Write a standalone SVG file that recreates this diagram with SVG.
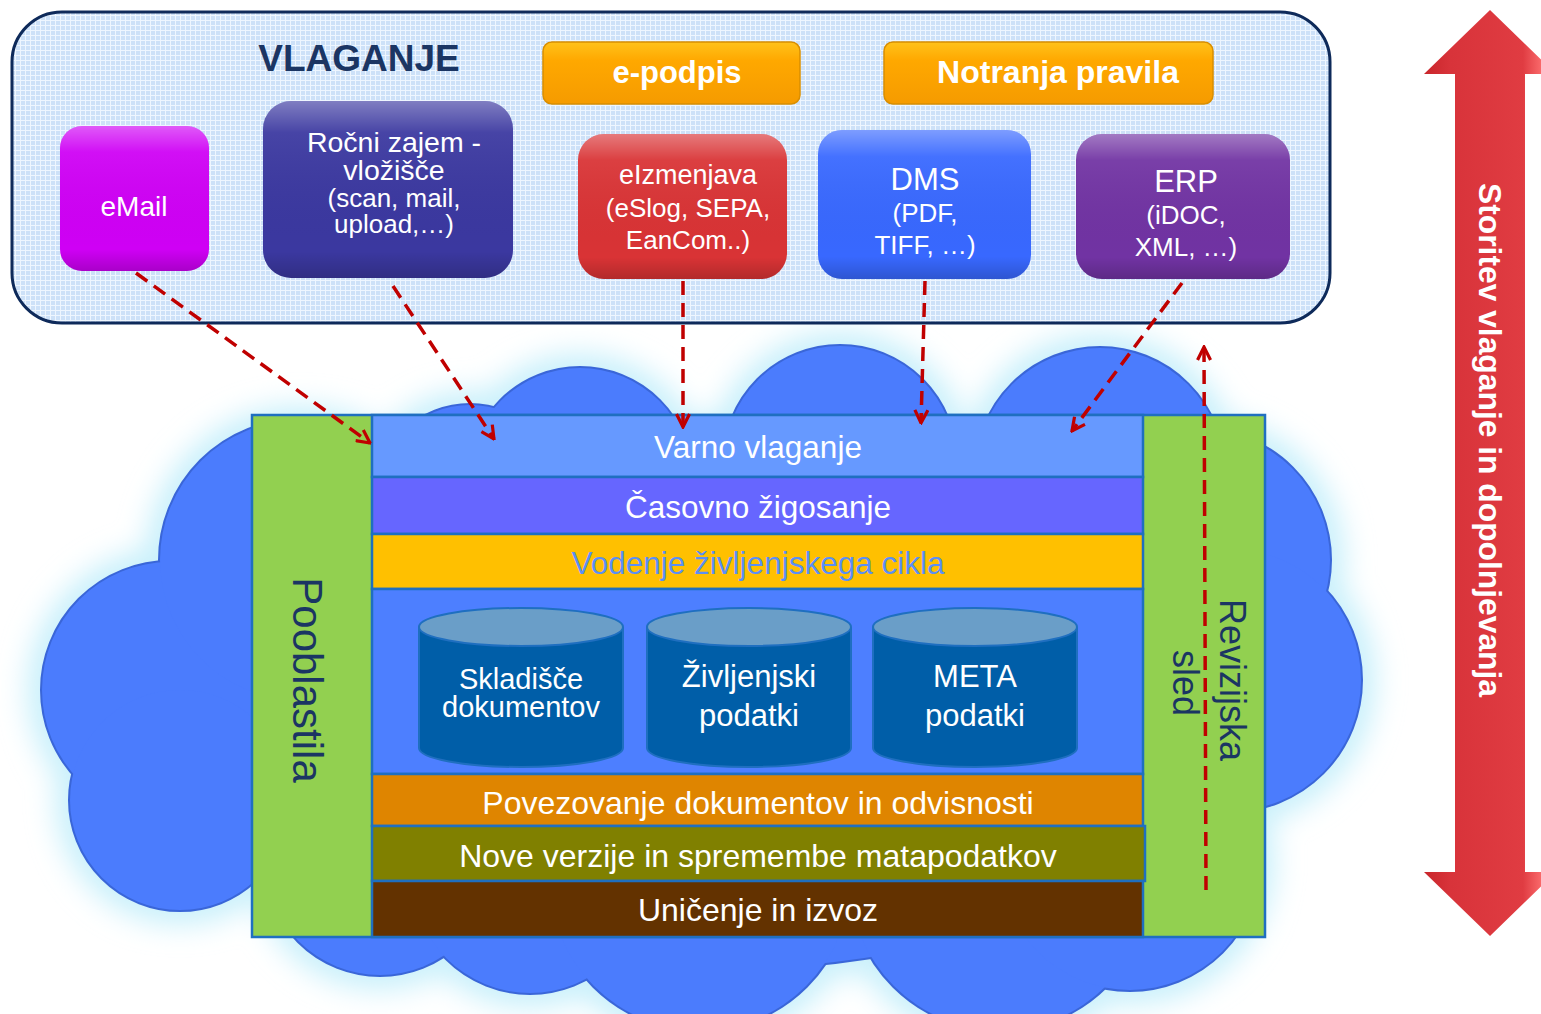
<svg xmlns="http://www.w3.org/2000/svg" width="1541" height="1014" viewBox="0 0 1541 1014">
<defs>
  <style>
    .t { font-family: "Liberation Sans", Arial, sans-serif; text-anchor: middle; fill: #ffffff; }
    .b { font-weight: bold; }
    .navy { fill: #1b3563; }
    .layer { stroke: #1f6fc0; stroke-width: 2.5; }
    .conn { fill: none; stroke: #c00000; stroke-width: 3.5; stroke-dasharray: 14 8; marker-end: url(#ah); }
    .cyl { fill: #005ea8; stroke: #1f6fc0; stroke-width: 2; }
    .cyltop { fill: #6a9ec8; stroke: #1f6fc0; stroke-width: 2; }
    .cloud { fill: #4b7cfd; }
  </style>
  <pattern id="grid" width="5" height="5" patternUnits="userSpaceOnUse">
    <rect width="5" height="5" fill="#cde1f8"/>
    <path d="M0,0.5H5M0.5,0V5" stroke="#eef6ff" stroke-width="1"/>
  </pattern>
  <linearGradient id="gloss" x1="0" y1="0" x2="0" y2="1">
    <stop offset="0" stop-color="#ffffff" stop-opacity="0.35"/>
    <stop offset="0.18" stop-color="#ffffff" stop-opacity="0.06"/>
    <stop offset="0.85" stop-color="#000000" stop-opacity="0"/>
    <stop offset="1" stop-color="#000000" stop-opacity="0.18"/>
  </linearGradient>
  <linearGradient id="orange" x1="0" y1="0" x2="0" y2="1">
    <stop offset="0" stop-color="#ffc21a"/>
    <stop offset="0.3" stop-color="#ffa800"/>
    <stop offset="1" stop-color="#f59b00"/>
  </linearGradient>
  <linearGradient id="redarrow" x1="0" y1="0" x2="1" y2="0">
    <stop offset="0" stop-color="#c9262b"/>
    <stop offset="0.2" stop-color="#d8333a"/>
    <stop offset="0.75" stop-color="#e03c42"/>
    <stop offset="0.92" stop-color="#ff7373"/>
    <stop offset="1" stop-color="#d8363b"/>
  </linearGradient>
  <filter id="glow" x="-10%" y="-10%" width="120%" height="120%">
    <feGaussianBlur stdDeviation="14"/>
  </filter>
  <marker id="ah" viewBox="0 0 16 16" refX="14.5" refY="8" markerWidth="16" markerHeight="16" markerUnits="userSpaceOnUse" orient="auto">
    <path d="M1.5,1.5 L14.5,8 L1.5,14.5" fill="none" stroke="#c00000" stroke-width="3.2"/>
  </marker>
  <g id="cloudshape">
    <ellipse cx="700" cy="700" rx="560" ry="270"/>
    <circle cx="170" cy="690" r="128"/>
    <circle cx="300" cy="560" r="140"/>
    <circle cx="470" cy="500" r="95"/>
    <circle cx="180" cy="800" r="110"/>
    <circle cx="380" cy="860" r="115"/>
    <circle cx="530" cy="875" r="118"/>
    <circle cx="700" cy="880" r="150"/>
    <circle cx="1000" cy="880" r="150"/>
    <circle cx="580" cy="480" r="112"/>
    <circle cx="840" cy="462" r="116"/>
    <circle cx="1100" cy="472" r="124"/>
    <circle cx="1200" cy="560" r="130"/>
    <circle cx="1230" cy="680" r="131"/>
    <circle cx="1130" cy="860" r="130"/>
  </g>
</defs>

<rect width="1541" height="1014" fill="#ffffff"/>

<!-- cloud -->
<g id="cloud">
  <use href="#cloudshape" fill="#c9f0fb" stroke="#c9f0fb" stroke-width="30" filter="url(#glow)"/>
  <use href="#cloudshape" fill="#3a66d8" stroke="#3a66d8" stroke-width="4"/>
  <use href="#cloudshape" class="cloud"/>
</g>

<!-- top panel -->
<g id="vlaganje-panel">
  <rect x="12" y="12" width="1318" height="311" rx="50" fill="url(#grid)" stroke="#0e2a5a" stroke-width="3"/>
  <text class="t b navy" x="359" y="71" font-size="37">VLAGANJE</text>
</g>

<g id="epodpis">
  <rect x="543" y="42" width="257" height="62" rx="9" fill="url(#orange)" stroke="#d98e00" stroke-width="1.5"/>
  <text class="t b" x="677" y="83" font-size="31">e-podpis</text>
</g>
<g id="notranja">
  <rect x="884" y="42" width="329" height="62" rx="9" fill="url(#orange)" stroke="#d98e00" stroke-width="1.5"/>
  <text class="t b" x="1058" y="83" font-size="32">Notranja pravila</text>
</g>

<g id="email">
  <rect x="60" y="126" width="149" height="145" rx="22" fill="#cf00f5"/>
  <rect x="60" y="126" width="149" height="145" rx="22" fill="url(#gloss)"/>
  <text class="t" x="134" y="216" font-size="28">eMail</text>
</g>
<g id="rocni">
  <rect x="263" y="101" width="250" height="177" rx="28" fill="#3b38a0"/>
  <rect x="263" y="101" width="250" height="177" rx="28" fill="url(#gloss)"/>
  <text class="t" x="394" y="152" font-size="28.5">Ročni zajem -</text>
  <text class="t" x="394" y="180" font-size="28.5">vložišče</text>
  <text class="t" x="394" y="207" font-size="26">(scan, mail,</text>
  <text class="t" x="394" y="233" font-size="26">upload,…)</text>
</g>
<g id="eizmenjava">
  <rect x="578" y="134" width="209" height="145" rx="26" fill="#d93335"/>
  <rect x="578" y="134" width="209" height="145" rx="26" fill="url(#gloss)"/>
  <text class="t" x="688" y="184" font-size="27">eIzmenjava</text>
  <text class="t" x="688" y="217" font-size="26">(eSlog, SEPA,</text>
  <text class="t" x="688" y="249" font-size="26">EanCom..)</text>
</g>
<g id="dms">
  <rect x="818" y="130" width="213" height="149" rx="24" fill="#3868ff"/>
  <rect x="818" y="130" width="213" height="149" rx="24" fill="url(#gloss)"/>
  <text class="t" x="925" y="190" font-size="31">DMS</text>
  <text class="t" x="925" y="222" font-size="26">(PDF,</text>
  <text class="t" x="925" y="254" font-size="26">TIFF, …)</text>
</g>
<g id="erp">
  <rect x="1076" y="134" width="214" height="145" rx="26" fill="#7133a3"/>
  <rect x="1076" y="134" width="214" height="145" rx="26" fill="url(#gloss)"/>
  <text class="t" x="1186" y="192" font-size="31">ERP</text>
  <text class="t" x="1186" y="224" font-size="26">(iDOC,</text>
  <text class="t" x="1186" y="256" font-size="26">XML, …)</text>
</g>

<!-- green frame -->
<g id="frame">
  <rect x="252" y="415" width="1013" height="522" fill="#92d050" stroke="#1f6fc0" stroke-width="2.5"/>
</g>
<g id="pooblastila">
  <text class="t navy" font-size="42" transform="translate(293,680) rotate(90)">Pooblastila</text>
</g>
<g id="revizijska">
  <text class="t navy" font-size="36" transform="translate(1220,680) rotate(90)">Revizijska</text>
  <text class="t navy" font-size="36" transform="translate(1173,683) rotate(90)">sled</text>
</g>

<g id="varno">
  <rect class="layer" x="372" y="415" width="771" height="62" fill="#6699ff"/>
  <text class="t" x="758" y="458" font-size="31.5">Varno vlaganje</text>
</g>
<g id="casovno">
  <rect class="layer" x="372" y="477" width="771" height="57" fill="#6666ff"/>
  <text class="t" x="758" y="518" font-size="31.5">Časovno žigosanje</text>
</g>
<g id="vodenje">
  <rect class="layer" x="372" y="534" width="771" height="55" fill="#ffc000"/>
  <text class="t" x="758" y="574" font-size="31.5" style="fill:#5b8ff6">Vodenje življenjskega cikla</text>
</g>
<g id="storage">
  <rect class="layer" x="372" y="589" width="771" height="185" fill="#4d7fff"/>
</g>
<g id="skladisce">
  <path class="cyl" d="M419,627 V748 A102,19 0 0 0 623,748 V627"/>
  <ellipse class="cyltop" cx="521" cy="627" rx="102" ry="19"/>
  <text class="t" x="521" y="689" font-size="29">Skladišče</text>
  <text class="t" x="521" y="717" font-size="29">dokumentov</text>
</g>
<g id="zivljenjski">
  <path class="cyl" d="M647,627 V748 A102,19 0 0 0 851,748 V627"/>
  <ellipse class="cyltop" cx="749" cy="627" rx="102" ry="19"/>
  <text class="t" x="749" y="687" font-size="31">Življenjski</text>
  <text class="t" x="749" y="726" font-size="31">podatki</text>
</g>
<g id="meta">
  <path class="cyl" d="M873,627 V748 A102,19 0 0 0 1077,748 V627"/>
  <ellipse class="cyltop" cx="975" cy="627" rx="102" ry="19"/>
  <text class="t" x="975" y="687" font-size="31">META</text>
  <text class="t" x="975" y="726" font-size="31">podatki</text>
</g>
<g id="povezovanje">
  <rect class="layer" x="372" y="774" width="771" height="52" fill="#df8500"/>
  <text class="t" x="758" y="814" font-size="32">Povezovanje dokumentov in odvisnosti</text>
</g>
<g id="nove">
  <rect class="layer" x="372" y="826" width="773" height="55" fill="#808000"/>
  <text class="t" x="758" y="867" font-size="32">Nove verzije in spremembe matapodatkov</text>
</g>
<g id="unicenje">
  <rect class="layer" x="372" y="881" width="771" height="56" fill="#633200"/>
  <text class="t" x="758" y="921" font-size="32">Uničenje in izvoz</text>
</g>

<!-- connectors -->
<g id="connectors">
  <path class="conn" d="M136,273 L370,443"/>
  <path class="conn" d="M393,286 L494,439"/>
  <path class="conn" d="M683,281 L683,427"/>
  <path class="conn" d="M925,281 L921,423"/>
  <path class="conn" d="M1182,283 L1072,431"/>
  <path class="conn" d="M1206,890 L1204,347"/>
</g>

<!-- side arrow -->
<g id="storitev">
  <polygon points="1490,10 1556,74 1525,74 1525,872 1556,872 1490,936 1424,872 1455,872 1455,74 1424,74" fill="url(#redarrow)"/>
  <text class="t b" font-size="32" textLength="514" lengthAdjust="spacingAndGlyphs" transform="translate(1479,440) rotate(90)">Storitev vlaganje in dopolnjevanja</text>
</g>
</svg>
